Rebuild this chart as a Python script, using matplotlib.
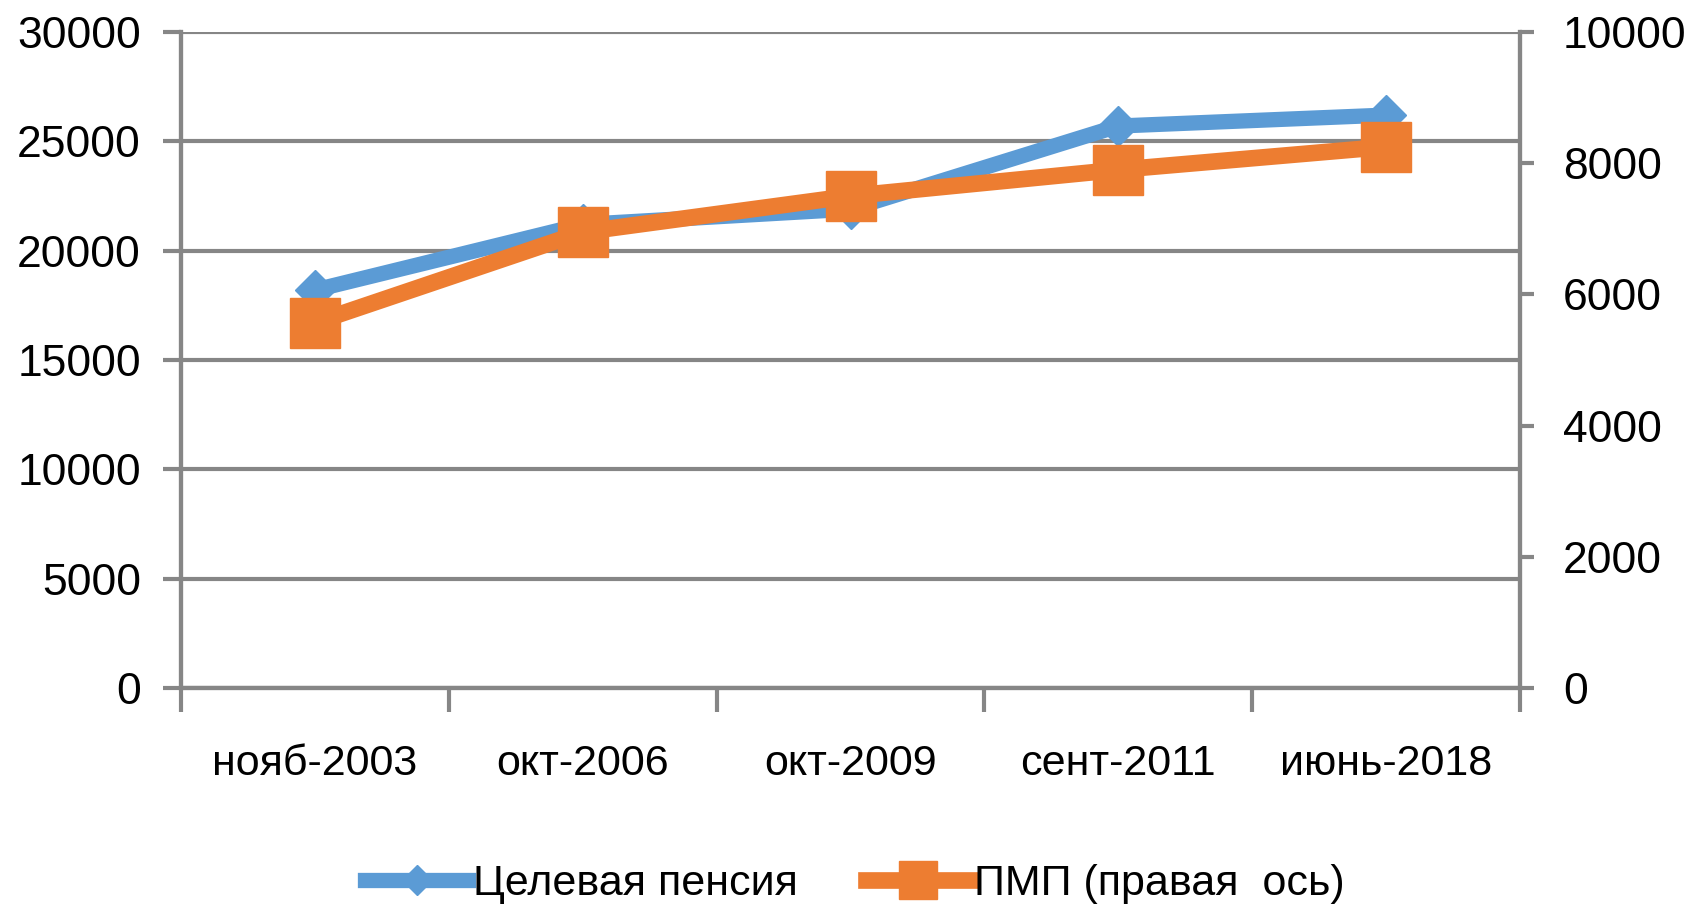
import numpy as np
import matplotlib
matplotlib.use("Agg")
import matplotlib.pyplot as plt

# данные
dates = ["нояб-2003", "окт-2006", "окт-2009", "сент-2011", "июнь-2018"]
target_pension = [18200, 21200, 21900, 25700, 26200]   # левая ось
pmp = [5570, 6950, 7500, 7900, 8250]                    # правая ось

left_ticks = [0, 5000, 10000, 15000, 20000, 25000, 30000]
right_ticks = [0, 2000, 4000, 6000, 8000, 10000]

blue = "#5B9BD5"
orange = "#ED7D31"
grid_col = "#868686"

plt.rcParams["font.family"] = ["Liberation Sans", "DejaVu Sans"]
fs = 31

fig = plt.figure(figsize=(16.86, 9.09), dpi=100)
ax1 = fig.add_axes([0.1074, 0.2431, 0.7941, 0.7217])
ax2 = ax1.twinx()

x = np.arange(len(dates))
ln1 = ax1.plot(x, target_pension, color=blue, lw=11, marker="D", ms=20,
               label="Целевая пенсия", solid_joinstyle="miter", zorder=3)
ln2 = ax2.plot(x, pmp, color=orange, lw=12, marker="s", ms=36,
               label="ПМП (правая  ось)", solid_joinstyle="miter", zorder=3)

ax1.set_xlim(-0.5, len(dates) - 0.5)
ax1.set_ylim(0, 30000)
ax2.set_ylim(0, 10000)
ax1.set_yticks(left_ticks)
ax2.set_yticks(right_ticks)

# риски на границах категорий, подписи по центрам
ax1.set_xticks(np.arange(-0.5, len(dates)), labels=[])
ax1.set_xticks(x, labels=dates, minor=True)
ax1.tick_params(axis="x", which="major", length=17, width=3, color=grid_col, direction="out")
ax1.tick_params(axis="x", which="minor", length=0, pad=40, labelsize=fs)
ax1.tick_params(axis="y", length=13, width=3, color=grid_col, pad=16, labelsize=32)
ax2.tick_params(axis="y", length=10, width=3, color=grid_col, pad=21, labelsize=32)

ax1.yaxis.grid(True, color=grid_col, lw=3)
ax1.set_axisbelow(True)

for ax in (ax1, ax2):
    ax.spines["top"].set_visible(False)
    for s in ("left", "right", "bottom"):
        ax.spines[s].set_color(grid_col)
        ax.spines[s].set_linewidth(3)

handles = ln1 + ln2
fig.legend(handles, [h.get_label() for h in handles], loc="center",
           bbox_to_anchor=(0.507, 0.027), ncol=2, frameon=False, fontsize=fs,
           handlelength=2.4, columnspacing=1.6, handletextpad=0.1, markerscale=0.75)

fig.savefig("out.png", dpi=100)
